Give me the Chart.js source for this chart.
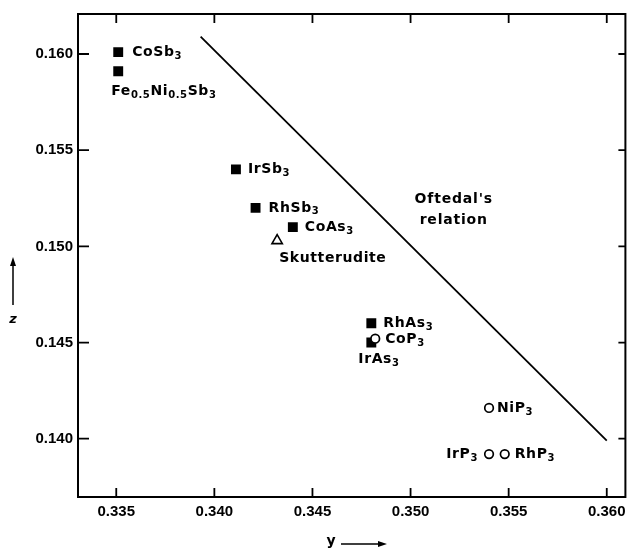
<!DOCTYPE html>
<html>
<head>
<meta charset="utf-8">
<script src="https://cdn.jsdelivr.net/npm/chart.js@4/dist/chart.umd.min.js"></script>
<style>
  html, body { margin: 0; padding: 0; background: #fff; }
  #wrap { width: 633px; height: 549px; }
</style>
</head>
<body>
<div id="wrap"><canvas id="myChart" width="633" height="549"></canvas></div>
<script>
// filled squares
const squareNames = ["CoSb_{3}", "Fe_{0.5}Ni_{0.5}Sb_{3}", "IrSb_{3}", "RhSb_{3}", "CoAs_{3}", "RhAs_{3}", "IrAs_{3}"];
const squareY = [0.3351, 0.3351, 0.3411, 0.3421, 0.3440, 0.3480, 0.3480];
const squareZ = [0.1601, 0.1591, 0.1540, 0.1520, 0.1510, 0.1460, 0.1450];

// open circles
const circleNames = ["CoP_{3}", "NiP_{3}", "IrP_{3}", "RhP_{3}"];
const circleY = [0.3482, 0.3540, 0.3540, 0.3548];
const circleZ = [0.1452, 0.1416, 0.1392, 0.1392];

// skutterudite mineral
const triangleNames = ["Skutterudite"];
const triangleY = [0.3432];
const triangleZ = [0.1503];

// Oftedal's relation
const lineY = [0.3393, 0.3600];
const lineZ = [0.1609, 0.1399];

const yTicks = [0.335, 0.340, 0.345, 0.350, 0.355, 0.360];
const zTicks = [0.140, 0.145, 0.150, 0.155, 0.160];

// label placement relative to the point, in px
const labelPos = {
  "CoSb_{3}": [14, 0, "left"],
  "Fe_{0.5}Ni_{0.5}Sb_{3}": [-7, 20, "left"],
  "IrSb_{3}": [12, 0, "left"],
  "RhSb_{3}": [13, 0, "left"],
  "CoAs_{3}": [12, 0, "left"],
  "RhAs_{3}": [12, 0, "left"],
  "IrAs_{3}": [-13, 17, "left"],
  "CoP_{3}": [10, 1, "left"],
  "NiP_{3}": [8, 0, "left"],
  "IrP_{3}": [-11, 0, "right"],
  "RhP_{3}": [10, 0, "left"],
  "Skutterudite": [2, 18, "left"],
};

const FONT = "DejaVu Sans";
const TICK_FONT = "Liberation Sans";

function toPts(xs, ys) {
  return xs.map((x, i) => ({ x: x, y: ys[i] }));
}

// split "Fe_{0.5}Ni" into normal / subscript pieces
function pieces(str) {
  const out = [];
  const re = /_\{([^}]*)\}/g;
  let last = 0, m;
  while ((m = re.exec(str)) !== null) {
    if (m.index > last) out.push({ t: str.slice(last, m.index), sub: false });
    out.push({ t: m[1], sub: true });
    last = re.lastIndex;
  }
  if (last < str.length) out.push({ t: str.slice(last), sub: false });
  return out;
}

function drawRich(ctx, str, x, y, align) {
  const parts = pieces(str);
  const big = "bold 14px " + FONT;
  const small = "bold 10px " + FONT;
  ctx.save();
  ctx.textBaseline = "middle";
  ctx.letterSpacing = "0.6px";
  let w = 0;
  parts.forEach((p) => {
    ctx.font = p.sub ? small : big;
    w += ctx.measureText(p.t).width;
  });
  let cx = align === "right" ? x - w : x;
  ctx.textAlign = "left";
  parts.forEach((p) => {
    ctx.font = p.sub ? small : big;
    ctx.fillText(p.t, cx, p.sub ? y + 4 : y);
    cx += ctx.measureText(p.t).width;
  });
  ctx.restore();
}

const decorations = {
  id: "decorations",
  afterDatasetsDraw(chart) {
    const { ctx, chartArea: a, scales } = chart;
    const sx = scales.x, sy = scales.y;
    ctx.save();
    ctx.strokeStyle = "#000";
    ctx.lineWidth = 2;
    ctx.strokeRect(a.left, a.top, a.right - a.left, a.bottom - a.top);
    ctx.lineWidth = 1.8;
    ctx.beginPath();
    yTicks.forEach((v) => {
      const px = sx.getPixelForValue(v);
      ctx.moveTo(px, a.bottom); ctx.lineTo(px, a.bottom - 9);
      ctx.moveTo(px, a.top); ctx.lineTo(px, a.top + 9);
    });
    zTicks.forEach((v) => {
      const py = sy.getPixelForValue(v);
      ctx.moveTo(a.left, py); ctx.lineTo(a.left + 11, py);
      ctx.moveTo(a.right, py); ctx.lineTo(a.right - 7, py);
    });
    ctx.stroke();

    // point labels
    const all = [
      [squareNames, squareY, squareZ],
      [circleNames, circleY, circleZ],
      [triangleNames, triangleY, triangleZ],
    ];
    ctx.fillStyle = "#000";
    all.forEach(([names, ys, zs]) => {
      names.forEach((n, i) => {
        const p = labelPos[n];
        const px = sx.getPixelForValue(ys[i]) + p[0];
        const py = sy.getPixelForValue(zs[i]) + p[1];
        drawRich(ctx, n, px, py, p[2]);
      });
    });

    // Oftedal's relation text
    const ox = sx.getPixelForValue(0.3522);
    const oy = sy.getPixelForValue(0.1519);
    ctx.font = "bold 14px " + FONT;
    ctx.letterSpacing = "0.8px";
    ctx.textAlign = "center";
    ctx.textBaseline = "middle";
    ctx.fillText("Oftedal's", ox, oy - 10);
    ctx.fillText("relation", ox, oy + 11);

    // axis titles with arrows
    ctx.letterSpacing = "0px";
    ctx.font = "bold italic 13px " + FONT;
    ctx.fillText("z", 13, 320);
    ctx.font = "bold 14px " + FONT;
    ctx.fillText("y", 331, 541);
    ctx.lineWidth = 1.5;
    ctx.beginPath();
    ctx.moveTo(13, 305); ctx.lineTo(13, 262);
    ctx.moveTo(341, 544); ctx.lineTo(380, 544);
    ctx.stroke();
    ctx.beginPath();
    ctx.moveTo(13, 257); ctx.lineTo(10, 266); ctx.lineTo(16, 266); ctx.closePath();
    ctx.moveTo(387, 544); ctx.lineTo(378, 541); ctx.lineTo(378, 547); ctx.closePath();
    ctx.fill();
    ctx.restore();
  },
};

const ctx = document.getElementById("myChart").getContext("2d");

new Chart(ctx, {
  type: "scatter",
  data: {
    datasets: [
      {
        data: toPts(circleY, circleZ),
        pointStyle: "circle",
        pointRadius: 4.3,
        pointBorderWidth: 1.7,
        pointBorderColor: "#000",
        pointBackgroundColor: "#fff",
        order: 0,
      },
      {
        data: toPts(triangleY, triangleZ),
        pointStyle: "triangle",
        pointRadius: 6,
        pointBorderWidth: 1.6,
        pointBorderColor: "#000",
        pointBackgroundColor: "#fff",
        order: 1,
      },
      {
        data: toPts(squareY, squareZ),
        pointStyle: "rect",
        pointRadius: 7,
        pointBorderWidth: 0,
        pointBackgroundColor: "#000",
        pointBorderColor: "#000",
        order: 2,
      },
      {
        data: toPts(lineY, lineZ),
        showLine: true,
        borderColor: "#000",
        borderWidth: 1.8,
        pointRadius: 0,
        order: 3,
      },
    ],
  },
  options: {
    responsive: false,
    animation: false,
    layout: { padding: { top: 13, right: 7, left: 0, bottom: 0 } },
    plugins: {
      legend: { display: false },
      tooltip: { enabled: false },
    },
    scales: {
      x: {
        type: "linear",
        min: 0.33305,
        max: 0.36095,
        afterBuildTicks: (s) => { s.ticks = yTicks.map((v) => ({ value: v })); },
        afterFit: (s) => { s.height = 52; },
        grid: { display: false, drawTicks: false },
        border: { display: false },
        ticks: {
          color: "#000",
          padding: 6,
          maxRotation: 0,
          font: { family: TICK_FONT, size: 15, weight: "bold" },
          callback: (v) => v.toFixed(3),
        },
      },
      y: {
        type: "linear",
        min: 0.13697,
        max: 0.16208,
        afterBuildTicks: (s) => { s.ticks = zTicks.map((v) => ({ value: v })); },
        afterFit: (s) => { s.width = 78; },
        grid: { display: false, drawTicks: false },
        border: { display: false },
        ticks: {
          color: "#000",
          padding: 5,
          font: { family: TICK_FONT, size: 15, weight: "bold" },
          callback: (v) => v.toFixed(3),
        },
      },
    },
  },
  plugins: [decorations],
});
</script>
</body>
</html>
